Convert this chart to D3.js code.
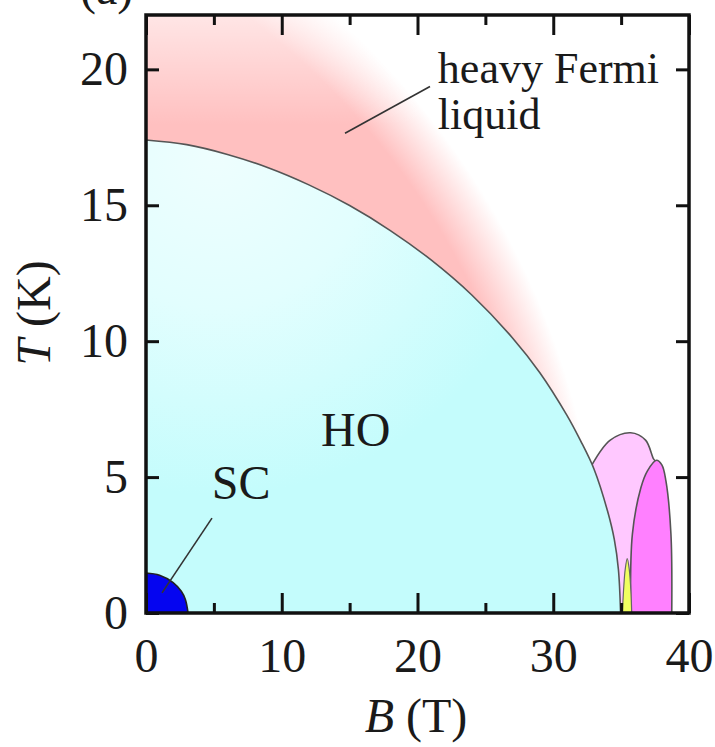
<!DOCTYPE html>
<html><head><meta charset="utf-8">
<script src="https://cdn.jsdelivr.net/npm/d3@7"></script>
<style>
html,body{margin:0;padding:0;background:#fff;}
text{font-family:"Liberation Serif","Times New Roman",serif;fill:#1a1a1a;}
</style></head>
<body>
<svg id="chart" width="715" height="747"></svg>
<script>
// ---- data ----
const xTicks = [0, 10, 20, 30, 40];
const xMinorTicks = [5, 15, 25, 35];
const yTicks = [0, 5, 10, 15, 20];

// hidden-order (HO) phase boundary
const hoB = [0, 3, 6, 9, 12, 15, 18, 21, 24, 27, 29, 31, 32, 33, 34, 34.5, 34.8, 34.96];
const hoT = [17.4, 17.23, 16.87, 16.38, 15.75, 14.99, 14.07, 12.99, 11.7, 10.12, 8.85, 7.28, 6.35, 5.3, 3.75, 2.7, 1.6, 0];

// superconducting (SC) dome
const scB = [0, 1, 2, 2.6, 2.9, 3.1];
const scT = [1.47, 1.39, 1.12, 0.8, 0.5, 0];

// high-field pockets
const lightB = [32.85, 34.2, 35.7, 36.8, 37.4, 37.6];
const lightT = [5.45, 6.36, 6.63, 6.36, 5.66, 5.55];
const magB = [35.7, 35.83, 36.45, 36.94, 37.6, 38.0, 38.3, 38.67, 38.73];
const magT = [0, 2.9, 4.6, 5.23, 5.62, 5.45, 4.86, 2.9, 0];
const yelB = [35.09, 35.2, 35.3, 35.45, 35.6, 35.72, 35.78];
const yelT = [0, 1.0, 1.6, 2.0, 1.6, 0.8, 0];

// annotations
const scLineB = [1.18, 4.86], scLineT = [0.74, 3.49];
const hfLineB = [14.66, 20.92], hfLineT = [17.65, 19.37];
const labels = [
  {text: "HO", B: 12.9, T: 6.15},
  {text: "SC", B: 4.85, T: 4.2},
  {text: "heavy Fermi", B: 21.5, T: 19.48, size: 44},
  {text: "liquid", B: 21.5, T: 17.8, size: 44}
];

// ---- drawing ----
const svg = d3.select("#chart");
const x = d3.scaleLinear().domain([0, 40]).range([146, 689]);
const y = d3.scaleLinear().domain([0, 22]).range([613, 15]);
const [x0, x1] = x.range(), [y0, y1] = y.range();

const defs = svg.append("defs");
defs.append("clipPath").attr("id", "plotclip").append("rect")
  .attr("x", x0).attr("y", y1).attr("width", x1 - x0).attr("height", y0 - y1);

const pinkG = defs.append("radialGradient").attr("id", "pinkG")
  .attr("gradientUnits", "userSpaceOnUse")
  .attr("cx", x0 - 344).attr("cy", y0).attr("r", 800);
pinkG.append("stop").attr("offset", 0).attr("stop-color", "#ffc0c0");
pinkG.append("stop").attr("offset", 0.93).attr("stop-color", "#ffc0c0");
pinkG.append("stop").attr("offset", 1).attr("stop-color", "#ffffff");

const topFade = defs.append("linearGradient").attr("id", "topFade")
  .attr("gradientUnits", "userSpaceOnUse")
  .attr("x1", 0).attr("y1", y1).attr("x2", 0).attr("y2", y1 + 110);
topFade.append("stop").attr("offset", 0).attr("stop-color", "#fff").attr("stop-opacity", 0.6);
topFade.append("stop").attr("offset", 1).attr("stop-color", "#fff").attr("stop-opacity", 0);

const cyanG = defs.append("radialGradient").attr("id", "cyanG")
  .attr("gradientUnits", "userSpaceOnUse")
  .attr("cx", x0 + 70).attr("cy", y1 + 140).attr("r", 340);
cyanG.append("stop").attr("offset", 0).attr("stop-color", "#eefefe");
cyanG.append("stop").attr("offset", 0.45).attr("stop-color", "#e2fefe");
cyanG.append("stop").attr("offset", 1).attr("stop-color", "#c4fcfc");

const g = svg.append("g").attr("clip-path", "url(#plotclip)");

// heavy Fermi liquid background
g.append("rect").attr("x", x0).attr("y", y1).attr("width", x1 - x0).attr("height", y0 - y1)
  .attr("fill", "url(#pinkG)");
g.append("rect").attr("x", x0).attr("y", y1).attr("width", x1 - x0).attr("height", 110)
  .attr("fill", "url(#topFade)");

const zip = (a, b) => a.map((v, i) => [v, b[i]]);
const area = d3.area().x(d => x(d[0])).y0(y(0)).y1(d => y(d[1])).curve(d3.curveCatmullRom);
const line = d3.line().x(d => x(d[0])).y(d => y(d[1])).curve(d3.curveCatmullRom);
const straight = d3.line().x(d => x(d[0])).y(d => y(d[1]));

// light pink pocket (partly hidden under HO and magenta)
const lightPts = zip(lightB, lightT);
g.append("path").attr("d", line(lightPts) + "L" + x(36.6) + "," + y(0) + "L" + x(33.0) + "," + y(0) + "Z")
  .attr("fill", "#ffc8ff");
g.append("path").attr("d", line(lightPts)).attr("fill", "none").attr("stroke", "#555").attr("stroke-width", 1.6);

// HO dome
const hoPts = zip(hoB, hoT);
g.append("path").attr("d", area(hoPts)).attr("fill", "url(#cyanG)");
g.append("path").attr("d", line(hoPts)).attr("fill", "none").attr("stroke", "#555").attr("stroke-width", 1.6);

// magenta pocket
g.append("path").attr("d", area(zip(magB, magT))).attr("fill", "#ff80ff")
  .attr("stroke", "#555").attr("stroke-width", 1.6);
// yellow sliver
g.append("path").attr("d", area(zip(yelB, yelT))).attr("fill", "#f0ff60")
  .attr("stroke", "#666").attr("stroke-width", 1.2);
// SC dome
g.append("path").attr("d", area(zip(scB, scT))).attr("fill", "#0505f0")
  .attr("stroke", "#222").attr("stroke-width", 1.6);

// annotation lines
svg.append("path").attr("d", straight(zip(scLineB, scLineT))).attr("stroke", "#333").attr("stroke-width", 1.6).attr("fill", "none");
svg.append("path").attr("d", straight(zip(hfLineB, hfLineT))).attr("stroke", "#333").attr("stroke-width", 1.6).attr("fill", "none");

// labels
svg.selectAll("text.lab").data(labels).enter().append("text").attr("class", "lab")
  .attr("x", d => x(d.B)).attr("y", d => y(d.T))
  .attr("font-size", d => d.size || 48).text(d => d.text);

// axes
const tickStyle = sel => {
  sel.select(".domain").remove();
  sel.selectAll(".tick line").attr("stroke", "#111").attr("stroke-width", 3);
  sel.selectAll(".tick text").attr("font-size", 48).attr("fill", "#1a1a1a")
    .attr("font-family", '"Liberation Serif","Times New Roman",serif');
};
svg.append("g").attr("transform", `translate(0,${y0})`)
  .call(d3.axisBottom(x).tickValues(xTicks).tickFormat(d3.format("d")).tickSize(-20).tickPadding(25))
  .call(tickStyle);
svg.append("g").attr("transform", `translate(0,${y0})`)
  .call(d3.axisBottom(x).tickValues(xMinorTicks).tickFormat("").tickSize(-10))
  .call(tickStyle);
svg.append("g").attr("transform", `translate(0,${y1})`)
  .call(d3.axisTop(x).tickValues(xTicks).tickFormat("").tickSize(-20))
  .call(tickStyle);
svg.append("g").attr("transform", `translate(0,${y1})`)
  .call(d3.axisTop(x).tickValues(xMinorTicks).tickFormat("").tickSize(-10))
  .call(tickStyle);
svg.append("g").attr("transform", `translate(${x0},0)`)
  .call(d3.axisLeft(y).tickValues(yTicks).tickFormat(d3.format("d")).tickSize(-13).tickPadding(18))
  .call(tickStyle);
svg.append("g").attr("transform", `translate(${x1},0)`)
  .call(d3.axisRight(y).tickValues(yTicks).tickFormat("").tickSize(-13))
  .call(tickStyle);

// frame
svg.append("rect").attr("x", x0).attr("y", y1).attr("width", x1 - x0).attr("height", y0 - y1)
  .attr("fill", "none").attr("stroke", "#111").attr("stroke-width", 3.5);

// axis titles
const xt = svg.append("text").attr("x", 416).attr("y", 732).attr("text-anchor", "middle").attr("font-size", 48);
xt.append("tspan").attr("font-style", "italic").text("B");
xt.append("tspan").text(" (T)");
const yt = svg.append("text").attr("transform", "translate(50,313) rotate(-90)").attr("text-anchor", "middle").attr("font-size", 48);
yt.append("tspan").attr("font-style", "italic").text("T");
yt.append("tspan").text(" (K)");

// panel label (mostly cut off at top, as in the original)
svg.append("text").attr("x", 80).attr("y", 4).attr("font-size", 48).text("(a)");
</script>
</body></html>
